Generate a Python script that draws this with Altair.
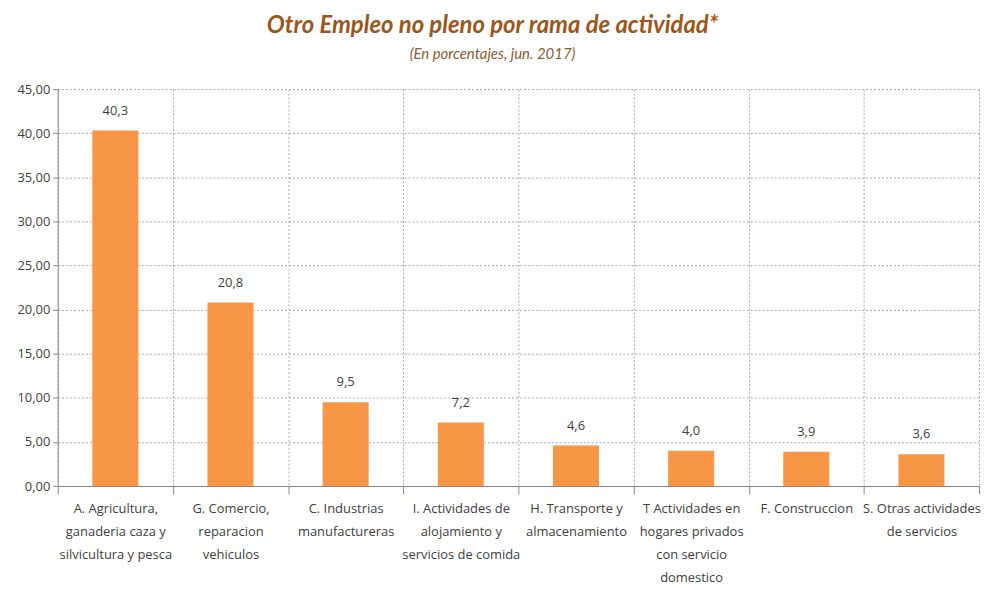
import altair as alt
import pandas as pd

categories = [
    "A. Agricultura,|ganaderia caza y|silvicultura y pesca",
    "G. Comercio,|reparacion|vehiculos",
    "C. Industrias|manufactureras",
    "I. Actividades de|alojamiento y|servicios de comida",
    "H. Transporte y|almacenamiento",
    "T  Actividades en|hogares privados|con servicio|domestico",
    "F. Construccion",
    "S. Otras actividades|de servicios",
]
values = [40.3, 20.8, 9.5, 7.2, 4.6, 4.0, 3.9, 3.6]
y_ticks = [0, 5, 10, 15, 20, 25, 30, 35, 40, 45]

df = pd.DataFrame({"cat": categories, "value": values})

FONT = "Open Sans"
TFONT = "Lato"
TXT = "#404040"

x_enc = alt.X(
    "cat:N",
    sort=categories,
    title=None,
    scale=alt.Scale(paddingInner=0, paddingOuter=0),
    axis=alt.Axis(
        labelAngle=0,
        labelExpr="split(datum.label, '|')",
        labelFont=FONT,
        labelFontSize=13,
        labelColor=TXT,
        labelLineHeight=23,
        labelPadding=9,
        labelBaseline="top",
        tickBand="extent",
        ticks=True,
        tickSize=8,
        tickColor="#868686",
        domainColor="#868686",
        grid=True,
        gridColor="#A6A6A6",
        gridDash=[2, 2],
        labelLimit=200,
    ),
)

y_enc = alt.Y(
    "value:Q",
    title=None,
    scale=alt.Scale(domain=[0, 45], nice=False),
    axis=alt.Axis(
        values=y_ticks,
        labelExpr="replace(format(datum.value, '.2f'), '.', ',')",
        labelFont=FONT,
        labelFontSize=13,
        labelColor=TXT,
        labelPadding=3,
        tickSize=5,
        tickColor="#868686",
        domainColor="#868686",
        grid=True,
        gridColor="#A6A6A6",
        gridDash=[2, 2],
    ),
)

bars = alt.Chart(df).mark_bar(color="#F79646", width=alt.RelativeBandSize(0.4)).encode(x=x_enc, y=y_enc)

labels = (
    alt.Chart(df)
    .transform_calculate(lbl="replace(format(datum.value, '.1f'), '.', ',')")
    .mark_text(font=FONT, fontSize=13, color=TXT, baseline="bottom", dy=-13)
    .encode(x=alt.X("cat:N", sort=categories), y="value:Q", text="lbl:N")
)

chart = (
    alt.layer(bars, labels)
    .properties(
        width=926,
        height=399,
        autosize=alt.AutoSizeParams(type="none"),
        padding={"left": 50, "top": 80, "right": 6, "bottom": 102},
        title=alt.Title(
            text="Otro Empleo no pleno por rama de actividad*",
            subtitle="(En porcentajes, jun. 2017)",
            font=TFONT,
            fontSize=24,
            fontWeight="bold",
            fontStyle="italic",
            color="#9C561C",
            subtitleFont=TFONT,
            subtitleFontSize=15,
            subtitleFontStyle="italic",
            subtitleColor="#8C5A32",
            subtitlePadding=9,
            anchor="middle",
            dx=-26,
            offset=21,
        ),
    )
    .configure_view(stroke=None)
)

chart.save("out.html", embed_options={"renderer": "svg", "actions": False})
